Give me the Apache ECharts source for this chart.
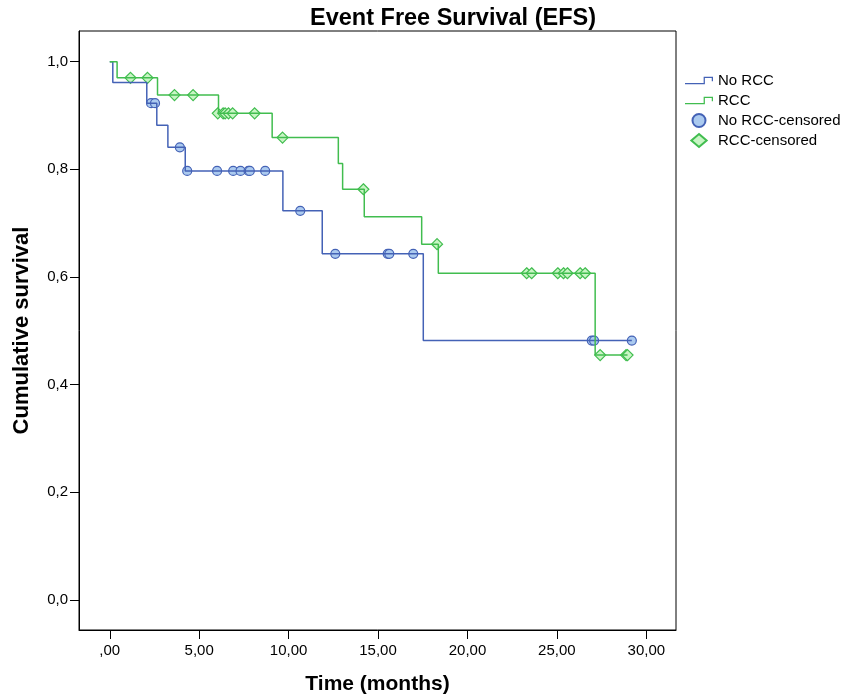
<!DOCTYPE html>
<html>
<head>
<meta charset="utf-8">
<title>Event Free Survival (EFS)</title>
<script src="https://cdn.jsdelivr.net/npm/echarts@6/dist/echarts.min.js"></script>
<style>
  html, body { margin: 0; padding: 0; background: #fff; }
  #chart { width: 844px; height: 700px; }
</style>
</head>
<body>
<div id="chart"></div>
<script>
// step curves (time of event, survival after event)
var noRccTime = [0, 0.17, 2.07, 2.63, 3.25, 4.22, 9.68, 11.88, 17.53, 29.19];
var noRccSurv = [1, 0.9615, 0.923, 0.882, 0.841, 0.797, 0.723, 0.643, 0.482, 0.482];
var rccTime = [0, 0.41, 2.67, 6.08, 9.08, 12.78, 13.02, 14.23, 17.44, 18.37, 27.14, 28.95];
var rccSurv = [1, 0.970, 0.938, 0.904, 0.859, 0.811, 0.763, 0.712, 0.661, 0.607, 0.455, 0.455];

// censored observations
var noRccCensTime = [2.31, 2.53, 3.92, 4.33, 6.0, 6.9, 7.31, 7.76, 7.83, 8.69, 10.65, 12.61, 15.54, 15.63, 16.97, 26.95, 27.08, 29.19];
var noRccCensSurv = [0.923, 0.923, 0.841, 0.797, 0.797, 0.797, 0.797, 0.797, 0.797, 0.797, 0.723, 0.643, 0.643, 0.643, 0.643, 0.482, 0.482, 0.482];
var rccCensTime = [1.16, 2.11, 3.62, 4.66, 6.04, 6.34, 6.45, 6.64, 6.87, 8.10, 9.66, 14.18, 18.30, 23.31, 23.59, 25.05, 25.37, 25.59, 26.30, 26.58, 27.42, 28.87, 28.95];
var rccCensSurv = [0.970, 0.970, 0.938, 0.938, 0.904, 0.904, 0.904, 0.904, 0.904, 0.904, 0.859, 0.763, 0.661, 0.607, 0.607, 0.607, 0.607, 0.607, 0.607, 0.607, 0.455, 0.455, 0.455];

var xTicks = [0, 5, 10, 15, 20, 25, 30];
var yTicks = [0, 0.2, 0.4, 0.6, 0.8, 1.0];

function pairs(xs, ys) {
  var res = [];
  for (var i = 0; i < xs.length; i++) res.push([xs[i], ys[i]]);
  return res;
}

var blue = "#4462b6";
var green = "#41bd4f";
var font = "Liberation Sans, Arial, sans-serif";

// legend icons
var stepIcon = "path://M0,67L193,67L193,0L290,0L290,47L277,47L277,13L206,13L206,80L0,80Z";
var diamondIcon = "path://M10,0L20,8.5L10,17L0,8.5Z";

var chart = echarts.init(document.getElementById("chart"));

var option = {
  animation: false,
  title: {
    text: "Event Free Survival (EFS)",
    left: 305,
    top: 2,
    textStyle: { fontFamily: font, fontSize: 23.5, fontWeight: "bold", color: "#000" },
  },
  legend: {
    orient: "vertical",
    left: 680,
    top: 68,
    itemWidth: 28,
    itemHeight: 13,
    itemGap: 5,
    textStyle: { fontFamily: font, fontSize: 15, color: "#000" },
    data: [
      { name: "No RCC", icon: stepIcon, itemStyle: { borderWidth: 0 } },
      { name: "RCC", icon: stepIcon, itemStyle: { borderWidth: 0 } },
      { name: "No RCC-censored", icon: "circle" },
      { name: "RCC-censored", icon: diamondIcon },
    ],
  },
  grid: {
    left: 79,
    right: 168,
    top: 31,
    bottom: 70,
    show: true,
    borderColor: "#000",
    borderWidth: 1,
    containLabel: false,
    outerBoundsMode: "none",
  },
  xAxis: {
    type: "value",
    min: -1.72,
    max: 31.66,
    name: "Time (months)",
    nameLocation: "middle",
    nameGap: 44,
    nameMoveOverlap: false,
    nameTextStyle: { fontFamily: font, fontSize: 21, fontWeight: "bold", color: "#000" },
    axisLine: { show: true, onZero: false, lineStyle: { color: "#000", width: 1 } },
    axisTick: { show: true, length: 9, lineStyle: { color: "#000" }, customValues: xTicks },
    axisLabel: {
      margin: 13,
      fontFamily: font,
      fontSize: 15,
      color: "#000",
      customValues: xTicks,
      formatter: function (v) {
        return v === 0 ? ",00" : v.toFixed(2).replace(".", ",");
      },
    },
    splitLine: { show: false },
  },
  yAxis: {
    type: "value",
    min: -0.0557,
    max: 1.057,
    name: "Cumulative survival",
    nameLocation: "middle",
    nameGap: 46,
    nameMoveOverlap: false,
    nameTextStyle: { fontFamily: font, fontSize: 22, fontWeight: "bold", color: "#000" },
    axisLine: { show: true, onZero: false, lineStyle: { color: "#000", width: 1 } },
    axisTick: { show: true, length: 9, lineStyle: { color: "#000" }, customValues: yTicks },
    axisLabel: {
      margin: 11,
      fontFamily: font,
      fontSize: 15,
      color: "#000",
      customValues: yTicks,
      formatter: function (v) {
        return v.toFixed(1).replace(".", ",");
      },
    },
    splitLine: { show: false },
  },
  series: [
    {
      name: "No RCC",
      type: "line",
      step: "end",
      symbol: "none",
      color: blue,
      lineStyle: { color: blue, width: 1.5 },
      data: pairs(noRccTime, noRccSurv),
    },
    {
      name: "RCC",
      type: "line",
      step: "end",
      symbol: "none",
      color: green,
      lineStyle: { color: green, width: 1.5 },
      data: pairs(rccTime, rccSurv),
    },
    {
      name: "No RCC-censored",
      type: "scatter",
      symbol: "circle",
      symbolSize: 9,
      itemStyle: { color: "#abcaef", borderColor: blue, borderWidth: 1.2, opacity: 1 },
      data: pairs(noRccCensTime, noRccCensSurv),
    },
    {
      name: "RCC-censored",
      type: "scatter",
      symbol: "diamond",
      symbolSize: [11, 11],
      itemStyle: { color: "#c8f5c4", borderColor: green, borderWidth: 1.2, opacity: 1 },
      data: pairs(rccCensTime, rccCensSurv),
    },
  ],
};

chart.setOption(option);
</script>
</body>
</html>
